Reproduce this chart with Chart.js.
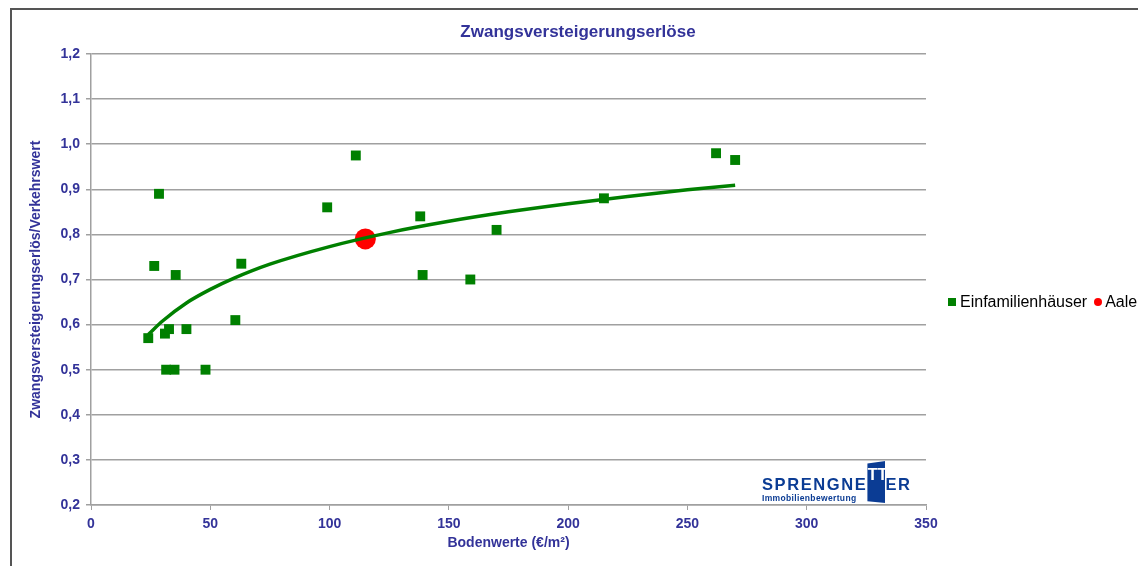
<!DOCTYPE html>
<html>
<head>
<meta charset="utf-8">
<script src="https://cdn.jsdelivr.net/npm/chart.js@4"></script>
<style>
  html, body { margin: 0; padding: 0; background: #fff; }
  body { width: 1138px; height: 566px; position: relative; overflow: hidden; font-family: "Liberation Sans", Arial, sans-serif; }
  #frame { position: absolute; left: 10px; top: 8px; width: 2000px; height: 2000px; border-left: 2px solid #555; border-top: 2px solid #555; box-sizing: border-box; }
  #wrap { position: absolute; left: 0; top: 0; width: 1138px; height: 566px; }
  .title { position: absolute; left: 0; width: 1156px; top: 22px; text-align: center; font-weight: bold; font-size: 17px; color: #333399; line-height: 20px; }
  .legend { position: absolute; top: 292px; left: 948px; font-size: 16px; line-height: 20px; color: #000; white-space: nowrap; }
  .legend .sq { display: inline-block; width: 8px; height: 8px; background: #008000; margin-right: 4px; vertical-align: 1px; }
  .legend .dot { display: inline-block; width: 8px; height: 8px; border-radius: 50%; background: #ff0000; margin: 0 3px 0 7px; vertical-align: 1px; }
  .logo { position: absolute; left: 762px; top: 461px; width: 160px; height: 44px; color: #0b3c94; }
  .logo .name { position: absolute; left: 0; top: 13px; font-weight: bold; font-size: 16.5px; letter-spacing: 1.6px; line-height: 20px; white-space: nowrap; }
  .logo .tt { display: inline-block; width: 18px; background: #0b3c94; color: #fff; height: 42px; line-height: 20px; padding-top: 3px; box-sizing: border-box; vertical-align: top; margin-top: -13px; letter-spacing: 0; text-align: center; clip-path: polygon(0 6%, 100% 0, 100% 100%, 0 96%); }
  .logo .sub { position: absolute; left: 0; top: 32px; font-weight: bold; font-size: 8.5px; letter-spacing: 0.35px; line-height: 10px; white-space: nowrap; }
</style>
</head>
<body>
<div id="frame"></div>
<div id="wrap"><canvas id="chart" width="1138" height="566"></canvas></div>
<div class="title">Zwangsversteigerungserlöse</div>
<div class="legend"><span class="sq"></span>Einfamilienhäuser<span class="dot"></span>Aale</div>
<div class="logo">
  <div class="name">SPRENGNE<span class="tt">TT</span>ER</div>
  <div class="sub">Immobilienbewertung</div>
</div>
<script>
// Einfamilienhäuser: Bodenwert (€/m²) und Erlös/Verkehrswert
const houseX = [24, 26.5, 28.5, 31, 32.7, 31.5, 35, 35.5, 40, 48, 60.5, 63, 99, 111, 138, 139, 159, 170, 215, 262, 270]
const houseY = [0.57, 0.73, 0.89, 0.58, 0.59, 0.50, 0.50, 0.71, 0.59, 0.50, 0.61, 0.735, 0.86, 0.975, 0.84, 0.71, 0.70, 0.81, 0.88, 0.98, 0.965]

// Aale
const aaleX = [115]
const aaleY = [0.79]

// Trendlinie
const trendX = [24, 30, 40, 50, 60, 75, 100, 125, 150, 175, 200, 225, 250, 270]
const trendY = [0.578, 0.608, 0.648, 0.678, 0.703, 0.734, 0.773, 0.804, 0.829, 0.850, 0.868, 0.884, 0.899, 0.909]

const tickColor = '#333399'
const gridColor = '#a0a0a0'
const toPoints = (xs, ys) => xs.map((x, i) => ({ x: x, y: ys[i] }))

new Chart(document.getElementById('chart'), {
  type: 'scatter',
  data: {
    datasets: [
      {
        label: 'Trend',
        type: 'line',
        data: toPoints(trendX, trendY),
        borderColor: '#008000',
        borderWidth: 3.5,
        pointRadius: 0,
        cubicInterpolationMode: 'monotone',
        fill: false,
        order: 0
      },
      {
        label: 'Einfamilienhäuser',
        data: toPoints(houseX, houseY),
        pointStyle: 'rect',
        pointRadius: 7,
        pointHoverRadius: 7,
        backgroundColor: '#008000',
        borderWidth: 0,
        order: 1
      },
      {
        label: 'Aale',
        data: toPoints(aaleX, aaleY),
        pointStyle: 'circle',
        pointRadius: 10.5,
        pointHoverRadius: 10.5,
        backgroundColor: '#ff0000',
        borderWidth: 0,
        order: 2
      }
    ]
  },
  options: {
    responsive: false,
    animation: false,
    layout: { padding: { left: 10, right: 212, top: 54, bottom: 0 } },
    plugins: {
      legend: { display: false },
      tooltip: { enabled: false }
    },
    scales: {
      x: {
        type: 'linear',
        min: 0,
        max: 350,
        ticks: {
          stepSize: 50,
          color: tickColor,
          font: { family: 'Liberation Sans', size: 14, weight: 'bold' },
          padding: 6
        },
        grid: { drawOnChartArea: false, tickLength: 5, color: gridColor },
        border: { display: true, color: gridColor, width: 1.5 },
        title: {
          display: true,
          text: 'Bodenwerte (€/m²)',
          color: tickColor,
          font: { family: 'Liberation Sans', size: 14, weight: 'bold' },
          padding: { top: 0, bottom: 14.5 }
        },
        afterFit: (scale) => { scale.height = 61 }
      },
      y: {
        min: 0.2,
        max: 1.2,
        ticks: {
          stepSize: 0.1,
          color: tickColor,
          font: { family: 'Liberation Sans', size: 14, weight: 'bold' },
          padding: 6,
          callback: (v) => v.toFixed(1).replace('.', ',')
        },
        grid: { color: gridColor, lineWidth: 1.5, tickLength: 5 },
        border: { display: true, color: gridColor, width: 1.5 },
        title: {
          display: true,
          text: 'Zwangsversteigerungserlös/Verkehrswert',
          color: tickColor,
          font: { family: 'Liberation Sans', size: 14, weight: 'bold' },
          padding: { top: 18, bottom: 0 }
        },
        afterFit: (scale) => { scale.width = 81 }
      }
    }
  }
})
</script>
</body>
</html>
